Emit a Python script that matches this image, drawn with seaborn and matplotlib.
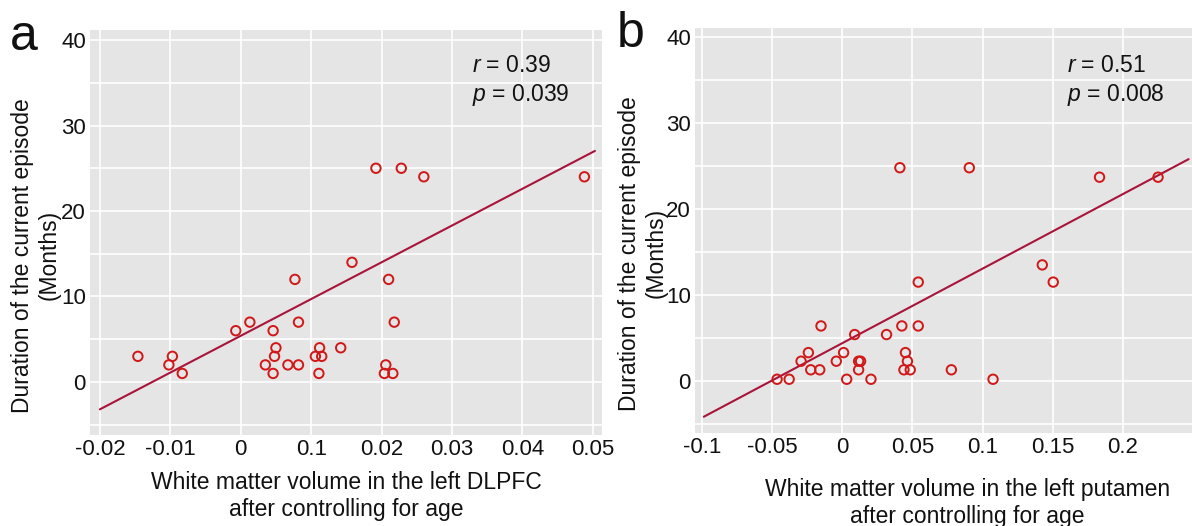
#!/usr/bin/env python3
import pandas as pd
import seaborn as sns
from matplotlib import pyplot as plt
from matplotlib.ticker import MultipleLocator

# panel a: left DLPFC white matter volume vs. episode duration
dlpfc_x = [-0.0146, -0.0097, -0.0102, -0.0083, -0.0007, 0.0013, 0.0046, 0.0050,
           0.0048, 0.0035, 0.0046, 0.0067, 0.0082, 0.0077, 0.0082, 0.0106,
           0.0115, 0.0112, 0.0111, 0.0142, 0.0158, 0.0192, 0.0228, 0.0260,
           0.0210, 0.0218, 0.0206, 0.0204, 0.0216, 0.0488]
dlpfc_y = [3, 3, 2, 1, 6, 7, 6, 4,
           3, 2, 1, 2, 2, 12, 7, 3,
           3, 4, 1, 4, 14, 25, 25, 24,
           12, 7, 2, 1, 1, 24]
# fitted line as printed in the figure (intercept, slope)
dlpfc_fit = (5.4, 430.0)

# panel b: left putamen white matter volume vs. episode duration
putamen_x = [-0.0465, -0.0379, -0.0294, -0.0242, -0.0225, -0.0161, -0.0152, -0.0043,
             0.0009, 0.0031, 0.0088, 0.0116, 0.0130, 0.0116, 0.0204, 0.0315,
             0.0410, 0.0424, 0.0450, 0.0464, 0.0439, 0.0484, 0.0541, 0.0541,
             0.0777, 0.0905, 0.1074, 0.1425, 0.1503, 0.1833, 0.2250]
putamen_y = [0.2, 0.2, 2.3, 3.3, 1.3, 1.3, 6.4, 2.3,
             3.3, 0.2, 5.4, 2.3, 2.3, 1.3, 0.2, 5.4,
             24.8, 6.4, 3.3, 2.3, 1.3, 1.3, 11.5, 6.4,
             1.3, 24.8, 0.2, 13.5, 11.5, 23.7, 23.7]
putamen_fit = (4.4, 86.7)

stats_a = "$r$ = 0.39\n$p$ = 0.039"
stats_b = "$r$ = 0.51\n$p$ = 0.008"

xticks_a = [-0.02, -0.01, 0, 0.01, 0.02, 0.03, 0.04, 0.05]
xtick_labels_a = ["-0.02", "-0.01", "0", "0.1", "0.02", "0.03", "0.04", "0.05"]
xticks_b = [-0.1, -0.05, 0, 0.05, 0.1, 0.15, 0.2]
xtick_labels_b = ["-0.1", "-0.05", "0", "0.05", "0.1", "0.15", "0.2"]
yticks = [0, 10, 20, 30, 40]

ylabel = "Duration of the current episode\n(Months)"
xlabel_a = "White matter volume in the left DLPFC\nafter controlling for age"
xlabel_b = "White matter volume in the left putamen\nafter controlling for age"

POINT_COLOR = "#D01818"
LINE_COLOR = "#A8143A"
TEXT_COLOR = "#111111"


def panel(ax, x, y, fit, line_range, xlim, ylim, xticks, xtick_labels, stats, stats_pos,
          ylab_pos, xlab_pos, xlabel):
    df = pd.DataFrame({"x": x, "y": y})
    sns.scatterplot(df, x="x", y="y", ax=ax, color=POINT_COLOR, facecolors="none",
                    edgecolors=POINT_COLOR, s=46, linewidths=1.4, zorder=3)
    intercept, slope = fit
    line = pd.DataFrame({"x": list(line_range)})
    line["y"] = intercept + slope * line["x"]
    sns.lineplot(line, x="x", y="y", ax=ax, color=LINE_COLOR, lw=1.5, zorder=2)
    ax.set_xlim(*xlim)
    ax.set_ylim(*ylim)
    ax.set_xticks(xticks, xtick_labels)
    ax.set_yticks(yticks, [str(t) for t in yticks])
    ax.yaxis.set_minor_locator(MultipleLocator(5))
    ax.grid(which="major", color="white", lw=1.2)
    ax.grid(which="minor", axis="y", color="white", lw=1.2)
    ax.tick_params(which="both", length=0, labelsize=16, pad=3, colors=TEXT_COLOR)
    for s in ax.spines.values():
        s.set_visible(False)
    ax.set_ylabel(ylabel, fontsize=16.5, color=TEXT_COLOR)
    ax.set_xlabel(xlabel, fontsize=16.5, color=TEXT_COLOR)
    ax.yaxis.set_label_coords(*ylab_pos)
    ax.xaxis.set_label_coords(*xlab_pos)
    ax.text(stats_pos[0], stats_pos[1], stats, transform=ax.transAxes,
            ha="left", va="top", fontsize=16.5, linespacing=1.25, color=TEXT_COLOR)


def main():
    sns.set_theme(style="darkgrid", rc={"axes.facecolor": "#E5E5E5"})
    plt.rcParams["font.family"] = ["Liberation Sans", "DejaVu Sans"]
    plt.rcParams["mathtext.fontset"] = "custom"
    plt.rcParams["mathtext.it"] = "Liberation Sans:italic"
    plt.rcParams["mathtext.rm"] = "Liberation Sans"

    fig = plt.figure(figsize=(11.92, 5.26), dpi=100)
    ax_a = fig.add_axes([90 / 1192, 1 - 435 / 526, 512 / 1192, 405 / 526])
    ax_b = fig.add_axes([695 / 1192, 1 - 433 / 526, 497 / 1192, 405 / 526])

    panel(ax_a, dlpfc_x, dlpfc_y, dlpfc_fit, (-0.02, 0.0503), (-0.0214, 0.0513),
          (-6.2, 41.17), xticks_a, xtick_labels_a, stats_a, (0.746, 0.94),
          (-0.058, 0.444), (0.5, -0.09), xlabel_a)
    panel(ax_b, putamen_x, putamen_y, putamen_fit, (-0.0987, 0.2468), (-0.105, 0.2492),
          (-6.05, 41.05), xticks_b, xtick_labels_b, stats_b, (0.748, 0.935),
          (-0.056, 0.444), (0.548, -0.112), xlabel_b)

    fig.text(10 / 1192, 1 - 50 / 526, "a", fontsize=36, va="baseline", ha="left",
             color=TEXT_COLOR)
    fig.text(617 / 1192, 1 - 47 / 526, "b", fontsize=36, va="baseline", ha="left",
             color=TEXT_COLOR)

    fig.savefig("out.png", dpi=100)
    plt.close(fig)


if __name__ == '__main__':
    main()
